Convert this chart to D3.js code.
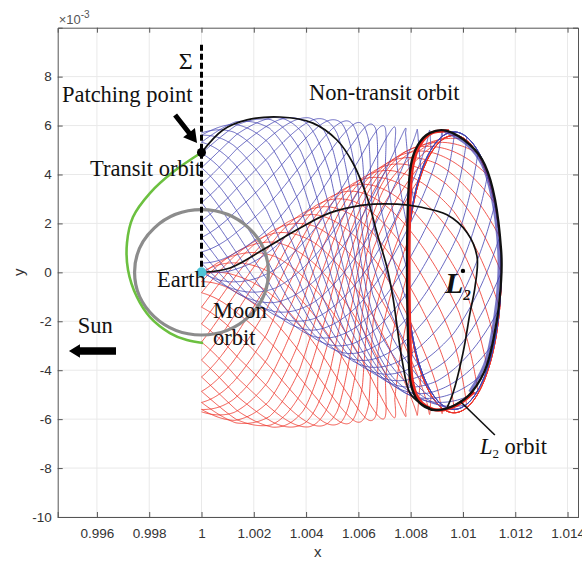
<!DOCTYPE html>
<html>
<head>
<meta charset="utf-8">
<script src="https://cdn.jsdelivr.net/npm/d3@7"></script>
<style>
  html, body { margin:0; padding:0; background:#fff; }
  svg { display:block; }
  .axis text { font-family: 'Liberation Sans', Arial, sans-serif; font-size:13.5px; fill:#333; }
  .axis path, .axis line { stroke:#555; }
  .note { font-family: 'Liberation Serif', 'Times New Roman', serif; font-size:22.5px; fill:#111; }
</style>
</head>
<body>
<svg id="chart" width="582" height="564"></svg>
<script>
// ---- axes ----
const xLimits = [0.9945, 1.0144];
const yLimits = [-10, 10];            // in units of 1e-3
const xTicks = [0.996, 0.998, 1, 1.002, 1.004, 1.006, 1.008, 1.01, 1.012, 1.014];
const yTicks = [-10, -8, -6, -4, -2, 0, 2, 4, 6, 8];

// ---- bodies ----
const earth = [1, 0];
const l2Point = [1.0100, 0.06];
const patchPoint = [1, 4.9];
const moonRadius = 0.00256;
const sectionTop = 9.3;               // top of the Sigma section line

// ---- L2 periodic orbit ----
const l2OrbitX = [1.00939, 1.01027, 1.01084, 1.01123, 1.01146, 1.01146, 1.01130, 1.01092, 1.01035, 1.00970,
                  1.00901, 1.00855, 1.00820, 1.00798, 1.00790, 1.00786, 1.00790, 1.00801, 1.00828, 1.00874];
const l2OrbitY = [5.78, 5.21, 4.39, 2.96, 0.91, -0.31, -1.94, -3.78, -4.88, -5.42,
                  -5.63, -5.50, -5.13, -4.39, -2.75, 0.10, 2.96, 4.39, 5.21, 5.70];

// ---- highlighted trajectories ----
const transitX = [1.0, 0.99891, 0.99803, 0.99738, 0.99715, 0.99719, 0.99753, 0.99803, 0.99879, 0.99944, 1.00006];
const transitY = [4.90, 4.10, 3.24, 2.26, 1.20, 0.10, -1.01, -1.83, -2.48, -2.77, -2.89];

const nonTransitX = [1.0, 1.00082, 1.00174, 1.00300, 1.00426, 1.00518, 1.00579, 1.00633, 1.00671, 1.00709,
                     1.00732, 1.00767, 1.00797, 1.00836, 1.00874];
const nonTransitY = [4.90, 5.82, 6.23, 6.35, 6.10, 5.41, 4.47, 3.08, 1.61, 0.22,
                     -1.01, -3.58, -4.93, -5.34, -5.55];

const earthToL2X = [1.0, 1.00109, 1.00235, 1.00365, 1.00491, 1.00618, 1.00748, 1.00836, 1.00939, 1.01016,
                    1.01054, 1.01046, 1.01027, 1.01000, 1.00962, 1.00939];
const earthToL2Y = [0, 0.18, 0.92, 1.74, 2.43, 2.75, 2.79, 2.67, 2.35, 1.62,
                    0.63, -0.60, -1.66, -3.30, -4.93, -5.54];

// ---- manifold tube (stations from Sigma to the L2 orbit, upper family; lower family is its mirror) ----
const tubeS      = [0, 0.15, 0.3, 0.45, 0.6, 0.75, 0.88, 1, 1.2];
const tubeCx     = [1.0, 1.0013, 1.0027, 1.0041, 1.0055, 1.0069, 1.0082, 1.00966, 1.00966];
const tubeRx     = [0, 0.0001, 0.0002, 0.0004, 0.0007, 0.0011, 0.0017, 0.0018, 0.0018];
const tubeTop    = [5.7, 6.15, 6.33, 6.32, 6.2, 6.0, 5.85, 5.74, 5.74];
const tubeBottom = [0, -0.81, -1.68, -2.55, -3.42, -4.29, -5.1, -5.6, -5.6];
const tubePhase  = [0, 0.5, 1.0, 1.6, 2.3, 3.1, 3.9, 4.7, 6.0];
const nTrajectories = 24;

const svg = d3.select('#chart');
const x = d3.scaleLinear().domain(xLimits).range([57.7, 578]);
const y = d3.scaleLinear().domain(yLimits).range([517, 27.7]);

// grid
const grid = svg.append('g');
grid.selectAll('line.gx').data(xTicks).join('line')
	.attr('x1', d => x(d)).attr('x2', d => x(d))
	.attr('y1', y(yLimits[0])).attr('y2', y(yLimits[1]))
	.attr('stroke', '#e9e9e9');
grid.selectAll('line.gy').data(yTicks).join('line')
	.attr('y1', d => y(d)).attr('y2', d => y(d))
	.attr('x1', x(xLimits[0])).attr('x2', x(xLimits[1]))
	.attr('stroke', '#e9e9e9');

svg.append('defs').append('clipPath').attr('id', 'plot-clip')
	.append('rect').attr('x', x(xLimits[0])).attr('y', y(yLimits[1]))
	.attr('width', x(xLimits[1]) - x(xLimits[0])).attr('height', y(yLimits[0]) - y(yLimits[1]));

const plot = svg.append('g').attr('clip-path', 'url(#plot-clip)');
const line = d3.line().x(d => x(d[0])).y(d => y(d[1])).curve(d3.curveCatmullRom);

// manifold trajectories
const cxS = d3.scaleLinear().domain(tubeS).range(tubeCx);
const rxS = d3.scaleLinear().domain(tubeS).range(tubeRx);
const topS = d3.scaleLinear().domain(tubeS).range(tubeTop);
const botS = d3.scaleLinear().domain(tubeS).range(tubeBottom);
const phS = d3.scaleLinear().domain(tubeS).range(tubePhase);
const sSteps = d3.range(0, tubeS[tubeS.length - 1] + 1e-9, 0.004);

function trajectory(phi0, sign) {
	return sSteps.map(s => {
		const yc = (topS(s) + botS(s)) / 2, ry = (topS(s) - botS(s)) / 2;
		const phi = phi0 + phS(s);
		return [cxS(s) - rxS(s) * Math.sin(phi), sign * (yc + ry * Math.cos(phi))];
	});
}
const phases = d3.range(nTrajectories).map(i => 2 * Math.PI * i / nTrajectories);

plot.append('g').selectAll('path').data(phases).join('path')
	.attr('d', p => line(trajectory(p, -1)))
	.attr('fill', 'none').attr('stroke', '#ee3328').attr('stroke-width', 0.9).attr('stroke-opacity', 0.9);
plot.append('g').selectAll('path').data(phases).join('path')
	.attr('d', p => line(trajectory(p, 1)))
	.attr('fill', 'none').attr('stroke', '#4646b4').attr('stroke-width', 0.9).attr('stroke-opacity', 0.9);

// L2 orbit: red band on the left/bottom side, blue band on the right, black outline
const l2Orbit = l2OrbitX.map((v, i) => [v, l2OrbitY[i]]);
const openLine = d3.line().x(d => x(d[0])).y(d => y(d[1])).curve(d3.curveCatmullRom);
plot.append('path')
	.attr('d', openLine(l2Orbit.slice(8).concat([l2Orbit[0]])))
	.attr('transform', 'translate(2,0)')
	.attr('fill', 'none').attr('stroke', '#ee2a22').attr('stroke-width', 3.2);
plot.append('path')
	.attr('d', openLine(l2Orbit.slice(0, 9)))
	.attr('transform', 'translate(-2.5,0)')
	.attr('fill', 'none').attr('stroke', '#4040b0').attr('stroke-width', 3).attr('stroke-opacity', 0.7);
plot.append('path')
	.attr('d', d3.line().x(d => x(d[0])).y(d => y(d[1])).curve(d3.curveCardinalClosed)(l2Orbit))
	.attr('fill', 'none').attr('stroke', '#111').attr('stroke-width', 2.3);

// moon orbit
plot.append('ellipse')
	.attr('cx', x(earth[0])).attr('cy', y(earth[1]))
	.attr('rx', x(earth[0] + moonRadius) - x(earth[0]))
	.attr('ry', y(0) - y(moonRadius * 1000))
	.attr('fill', 'none').attr('stroke', '#8c8c8c').attr('stroke-width', 3.2);

// highlighted trajectories
const toPts = (xs, ys) => xs.map((v, i) => [v, ys[i]]);
plot.append('path').attr('d', line(toPts(transitX, transitY)))
	.attr('fill', 'none').attr('stroke', '#6cc040').attr('stroke-width', 2.6);
plot.append('path').attr('d', line(toPts(nonTransitX, nonTransitY)))
	.attr('fill', 'none').attr('stroke', '#111').attr('stroke-width', 1.7);
plot.append('path').attr('d', line(toPts(earthToL2X, earthToL2Y)))
	.attr('fill', 'none').attr('stroke', '#111').attr('stroke-width', 1.7);

// Sigma section
plot.append('line')
	.attr('x1', x(earth[0])).attr('x2', x(earth[0]))
	.attr('y1', y(sectionTop)).attr('y2', y(earth[1]))
	.attr('stroke', '#000').attr('stroke-width', 3).attr('stroke-dasharray', '6,3');

// points
plot.append('circle').attr('cx', x(patchPoint[0])).attr('cy', y(patchPoint[1])).attr('r', 4.5).attr('fill', '#000');
plot.append('circle').attr('cx', x(earth[0])).attr('cy', y(earth[1])).attr('r', 5).attr('fill', '#4fc4d6');
plot.append('circle').attr('cx', x(l2Point[0])).attr('cy', y(l2Point[1])).attr('r', 2.2).attr('fill', '#000');

// axes (MATLAB-like box with inward ticks)
const fmt = d => String(+d.toFixed(3));
svg.append('g').attr('class', 'axis').attr('transform', `translate(0,${y(yLimits[0])})`)
	.call(d3.axisBottom(x).tickValues(xTicks).tickSize(-5).tickPadding(11).tickFormat(fmt));
svg.append('g').attr('class', 'axis').attr('transform', `translate(0,${y(yLimits[1])})`)
	.call(d3.axisTop(x).tickValues(xTicks).tickSize(-5).tickFormat(''));
svg.append('g').attr('class', 'axis').attr('transform', `translate(${x(xLimits[0])},0)`)
	.call(d3.axisLeft(y).tickValues(yTicks).tickSize(-5).tickPadding(6).tickFormat(fmt));
svg.append('g').attr('class', 'axis').attr('transform', `translate(${x(xLimits[1])},0)`)
	.call(d3.axisRight(y).tickValues(yTicks).tickSize(-5).tickFormat(''));
svg.selectAll('.axis .domain').attr('stroke', '#555');

// axis labels
svg.append('text').attr('x', (x(xLimits[0]) + x(xLimits[1])) / 2).attr('y', 557)
	.attr('text-anchor', 'middle').attr('font-family', 'Liberation Sans, Arial, sans-serif')
	.attr('font-size', 15).attr('fill', '#333').text('x');
svg.append('text').attr('transform', `translate(24,${y(0)}) rotate(-90)`)
	.attr('text-anchor', 'middle').attr('font-family', 'Liberation Sans, Arial, sans-serif')
	.attr('font-size', 15).attr('fill', '#333').text('y');
const expo = svg.append('text').attr('x', x(xLimits[0]) + 1).attr('y', 24)
	.attr('font-family', 'Liberation Sans, Arial, sans-serif').attr('font-size', 13).attr('fill', '#555');
expo.append('tspan').text('\u00d710');
expo.append('tspan').attr('dy', -6).attr('font-size', 10).text('-3');

// annotations
const note = (xd, yd, txt, anchor) => svg.append('text').attr('class', 'note')
	.attr('x', x(xd)).attr('y', y(yd)).attr('text-anchor', anchor || 'start').text(txt);
note(0.99966, 8.31, '\u03a3', 'end').style('font-size', '24px');
note(0.99466, 6.96, 'Patching point');
note(0.99574, 3.94, 'Transit orbit');
note(1.00411, 7.04, 'Non-transit orbit');
note(0.99830, -0.60, 'Earth');
note(1.00044, -1.87, 'Moon');
note(1.00044, -2.97, 'orbit');
note(0.99527, -2.48, 'Sun');

// L2 label
const l2Label = svg.append('text').attr('class', 'note').attr('x', x(1.00931)).attr('y', y(-0.84))
	.style('font-style', 'italic').style('font-weight', 'bold').style('font-size', '30px');
l2Label.append('tspan').text('L');
l2Label.append('tspan').attr('dy', 7).style('font-size', '15px').text('2');

// L2 orbit label and leader
svg.append('line').attr('x1', x(1.00988)).attr('y1', y(-5.26)).attr('x2', x(1.01122)).attr('y2', y(-6.65))
	.attr('stroke', '#111').attr('stroke-width', 1.6);
const orbLabel = svg.append('text').attr('class', 'note').attr('x', x(1.01065)).attr('y', y(-7.42));
orbLabel.append('tspan').style('font-style', 'italic').text('L');
orbLabel.append('tspan').attr('dy', 4).style('font-size', '13px').text('2');
orbLabel.append('tspan').attr('dy', -4).text(' orbit');

// arrows
function arrow(from, to, shaft, headW, headL) {
	const x0 = x(from[0]), y0 = y(from[1]), x1 = x(to[0]), y1 = y(to[1]);
	const len = Math.hypot(x1 - x0, y1 - y0), ux = (x1 - x0) / len, uy = (y1 - y0) / len;
	const nx = -uy, ny = ux, bx = x1 - ux * headL, by = y1 - uy * headL;
	const pts = [
		[x0 + nx * shaft / 2, y0 + ny * shaft / 2], [bx + nx * shaft / 2, by + ny * shaft / 2],
		[bx + nx * headW / 2, by + ny * headW / 2], [x1, y1],
		[bx - nx * headW / 2, by - ny * headW / 2], [bx - nx * shaft / 2, by - ny * shaft / 2],
		[x0 - nx * shaft / 2, y0 - ny * shaft / 2]];
	svg.append('polygon').attr('points', pts.map(p => p.join(',')).join(' ')).attr('fill', '#000');
}
arrow([0.99899, 6.43], [0.99983, 5.29], 5, 15, 13);
arrow([0.99673, -3.21], [0.99493, -3.21], 7.5, 13.5, 11);
</script>
</body>
</html>
